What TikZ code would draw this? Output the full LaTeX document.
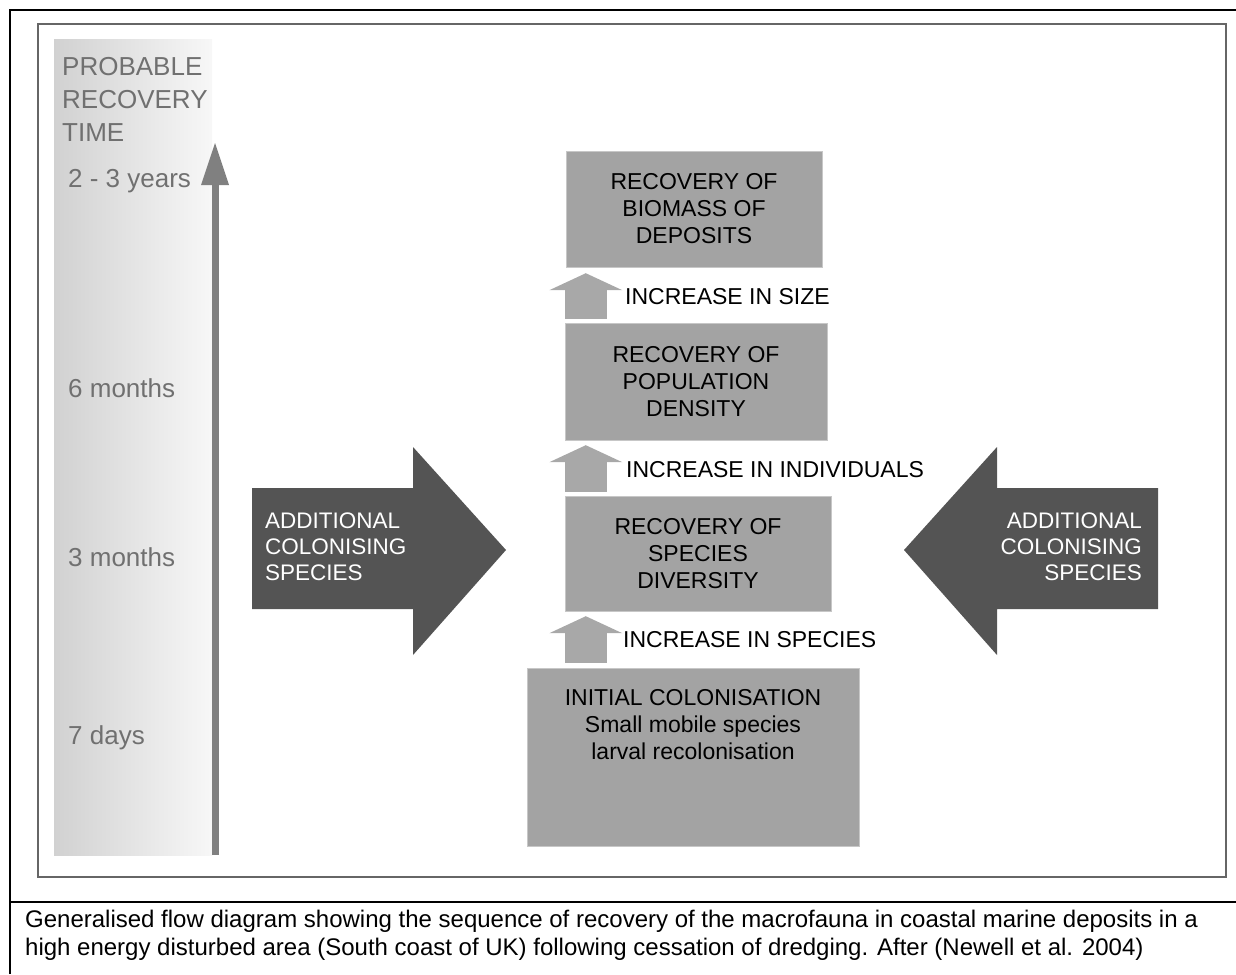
\documentclass[tikz,border=0pt]{standalone}
\usepackage{fontspec}
\setmainfont{Liberation Sans}
\usetikzlibrary{arrows.meta, calc, positioning}

\definecolor{boxgrey}{gray}{0.64}
\definecolor{boxedge}{gray}{0.78}
\definecolor{stepgrey}{gray}{0.66}
\definecolor{sidegrey}{gray}{0.33}
\definecolor{timegrey}{gray}{0.50}
\definecolor{labelgrey}{gray}{0.44}
\definecolor{bandgrey}{gray}{0.82}
\definecolor{framegrey}{gray}{0.40}

\tikzset{
  stagebox/.style={draw=boxedge, fill=boxgrey, inner sep=0pt, align=center,
    font=\fontsize{23}{27}\selectfont},
  stepup/.style={draw=stepgrey, line width=42pt,
    -{Triangle[length=17pt, width=73pt, line width=0pt]}},
  steptext/.style={anchor=west, inner sep=0pt, font=\fontsize{23}{26}\selectfont},
  timetext/.style={anchor=base west, inner sep=0pt, text=labelgrey,
    font=\fontsize{26}{33}\selectfont},
  sidetext/.style={inner sep=0pt, text=white, font=\fontsize{22.5}{26}\selectfont},
}

\begin{document}
\begin{tikzpicture}[x=1pt, y=-1pt]
\useasboundingbox (0,0) rectangle (1236,974);
% frames
\draw[line width=2pt] (10,974) -- (10,10) -- (1236,10);
\draw[line width=2pt] (10,902) -- (1236,902);
\draw[framegrey, line width=1.5pt] (38,24) rectangle (1226,877);

% time scale
\shade[left color=bandgrey, right color=white!97!black] (54,40) rectangle (212,855);
\coordinate (t0) at (215,855);
\coordinate (t1) at (215,143);
\draw[timegrey, line width=7pt, -{Triangle[length=42pt, width=28pt, line width=0pt]}] (t0) -- (t1);
\node[timetext, anchor=north west, align=left] (title) at (62,57) {PROBABLE\\RECOVERY\\TIME};
\node[timetext] (yrs) at (68,187) {2 - 3 years};
\node[timetext] (sixm) at (68,397) {6 months};
\node[timetext] (threem) at (68,566) {3 months};
\node[timetext] (sevend) at (68,744) {7 days};

% stages
\node[stagebox, minimum width=256pt, minimum height=116pt] (biomass) at (694,209)
  {RECOVERY OF\\BIOMASS OF\\DEPOSITS};
\node[stagebox, minimum width=262pt, minimum height=117pt] (density) at (696,381.5)
  {RECOVERY OF\\POPULATION\\DENSITY};
\node[stagebox, minimum width=266pt, minimum height=115pt] (diversity) at (698,553.5)
  {RECOVERY OF\\SPECIES\\DIVERSITY};
\node[stagebox, minimum width=332pt, minimum height=178pt] (initial) at (693,757) {};
\node[stagebox, draw=none, fill=none, below=21pt of initial.north] (initialtxt)
  {INITIAL COLONISATION\\Small mobile species\\larval recolonisation};

% steps
\draw[stepup] ($(diversity.south west |- initial.north)+(21,-5)$) -- ($(diversity.south west)+(21,5)$);
\draw[stepup] ($(density.south west |- diversity.north)+(21,-4)$) -- ($(density.south west)+(21,5)$);
\draw[stepup] ($(biomass.south west |- density.north)+(20,-4)$) -- ($(biomass.south west)+(20,6)$);
\node[steptext] (incspecies) at (623,640) {INCREASE IN SPECIES};
\node[steptext] (incind) at (626,470) {INCREASE IN INDIVIDUALS};
\node[steptext] (incsize) at (625,297) {INCREASE IN SIZE};

% side arrows
\fill[sidegrey] (252,488) -- (413,488) -- (413,447) -- (506,550) -- (413,655)
  -- (413,609) -- (252,609) -- cycle;
\fill[sidegrey] (1158,488) -- (997,488) -- (997,447) -- (904,550) -- (997,655)
  -- (997,609) -- (1158,609) -- cycle;
\node[sidetext, anchor=west, align=left] (leftsp) at (265,547)
  {ADDITIONAL\\COLONISING\\SPECIES};
\node[sidetext, anchor=east, align=right] (rightsp) at (1142,547)
  {ADDITIONAL\\COLONISING\\SPECIES};

% caption
\node[anchor=north west, inner sep=0pt, align=left, font=\fontsize{24}{27.5}\selectfont] (caption) at (25,910)
  {Generalised flow diagram showing the sequence of recovery of the macrofauna in coastal marine deposits in a\\
   high energy disturbed area (South coast of UK) following cessation of dredging. After (Newell et al. 2004)};
\end{tikzpicture}
\end{document}
